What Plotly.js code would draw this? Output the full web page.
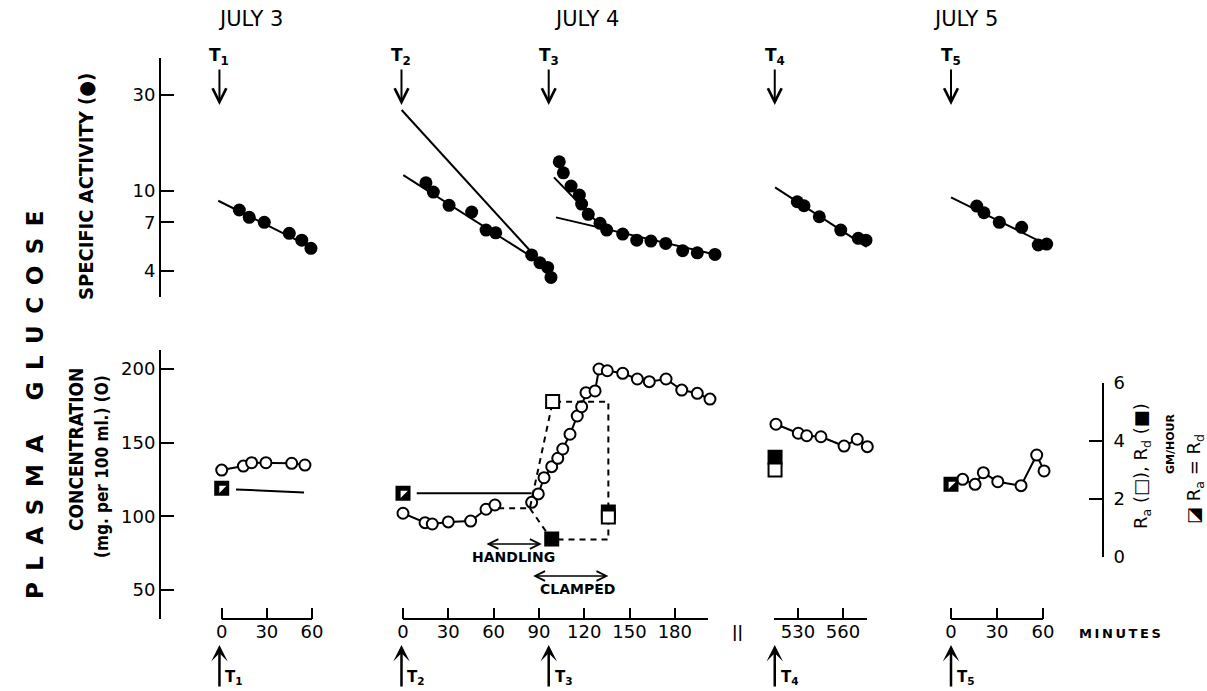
<!DOCTYPE html>
<html><head><meta charset="utf-8">
<script src="https://cdn.plot.ly/plotly-3.0.1.min.js"></script>
<style>html,body{margin:0;padding:0;background:#fff}</style>
</head><body><div id="chart" style="width:1207px;height:691px"></div>
<script>
// ================= DATA =================
const dayLabels = ['JULY 3', 'JULY 4', 'JULY 5'];
const injLabels = ['T<sub>1</sub>', 'T<sub>2</sub>', 'T<sub>3</sub>', 'T<sub>4</sub>', 'T<sub>5</sub>'];
const injTimes = [-1.5, -1, 96.5, 514.5, 0];

// Tick labels
const tickSeg1 = [0, 30, 60];
const tickSeg2 = [0, 30, 60, 90, 120, 150, 180];
const tickSeg3 = [530, 560];
const tickSeg4 = [0, 30, 60];
const tickSA = [4, 7, 10, 30];
const tickConc = [50, 100, 150, 200];
const tickRate = [0, 2, 4, 6];

// Specific activity (filled circles), log axis
const saT1Time = [11.7, 18.3, 28.3, 44.9, 53.2, 59.3];
const saT1Val  = [8.05, 7.40, 6.99, 6.16, 5.70, 5.19];
const saT1FitTime = [-2.3, 60.9];
const saT1FitVal  = [8.95, 5.19];

const saT2Time = [15.2, 20.1, 30.5, 45.5, 55.0, 61.4, 85.2, 90.7, 95.8, 98.0];
const saT2Val  = [11.0, 9.89, 8.49, 7.86, 6.40, 6.20, 4.81, 4.40, 4.17, 3.72];
const saT2FitTime = [0.2, 90.7];
const saT2FitVal  = [12.0, 4.43];
const saT2SteepTime = [-0.9, 84.8];
const saT2SteepVal  = [25.3, 4.99];

const saT3Time = [103.5, 106.2, 111.3, 116.8, 118.3, 122.7, 130.5, 134.9, 145.5, 154.8, 164.2, 174.0, 185.2, 194.9, 206.6];
const saT3Val  = [13.99, 12.33, 10.59, 9.55, 8.62, 7.66, 6.91, 6.40, 6.11, 5.70, 5.64, 5.49, 5.05, 4.93, 4.84];
const saT3EarlyFitTime = [100.0, 130.5];
const saT3EarlyFitVal  = [11.7, 6.77];
const saT3LateFitTime = [101.3, 206.6];
const saT3LateFitVal  = [7.40, 4.84];

const saT4Time = [529.5, 534.0, 544.2, 558.5, 570.2, 575.3];
const saT4Val  = [8.85, 8.45, 7.45, 6.40, 5.82, 5.70];
const saT4FitTime = [514.7, 575.8];
const saT4FitVal  = [10.43, 5.28];

const saT5Time = [16.8, 21.5, 31.5, 46.1, 56.9, 62.4];
const saT5Val  = [8.42, 7.80, 6.99, 6.60, 5.39, 5.45];
const saT5FitTime = [0, 58.7];
const saT5FitVal  = [9.30, 5.59];

// Plasma glucose concentration (open circles), mg per 100 ml
const concT1Time = [0, 14.4, 19.9, 29.4, 46.5, 55.3];
const concT1Val  = [131.4, 134.1, 136.4, 136.4, 136.0, 134.8];
const concT2Time = [0, 14.6, 19.4, 30.0, 44.8, 55.0, 60.9];
const concT2Val  = [102.1, 95.7, 94.8, 96.2, 96.8, 104.8, 107.7];
const concT3Time = [85.2, 89.6, 93.4, 98.5, 102.5, 105.8, 110.6, 115.4, 118.3, 121.2, 127.2, 129.8, 135.3, 145.5, 155.2, 163.1, 174.2, 184.6, 194.9, 203.3];
const concT3Val  = [109.5, 115.2, 126.2, 133.7, 139.4, 145.7, 155.7, 168.1, 174.4, 183.9, 185.1, 200.0, 198.8, 197.1, 193.2, 191.4, 193.2, 185.7, 183.5, 179.6];
const concT4Time = [515.3, 530.2, 535.8, 545.3, 560.7, 569.5, 576.2];
const concT4Val  = [162.5, 156.4, 154.7, 154.0, 147.7, 152.3, 147.3];
const concT5Time = [7.6, 15.7, 21.1, 30.5, 45.7, 55.9, 60.7];
const concT5Val  = [125.1, 121.7, 129.6, 123.5, 120.8, 141.6, 130.8];

// Ra / Rd (gm/hour), right axis
const eqT1Time = [0],   eqT1Val = [2.37];
const eqT1LineTime = [9.5, 54.7], eqT1LineVal = [2.33, 2.22];
const eqT2Time = [0],   eqT2Val = [2.20];
const eqT2LineTime = [9.1, 85.2], eqT2LineVal = [2.20, 2.20];
const raPathTime = [63, 84, 99.1, 136, 136];
const raPathVal  = [1.68, 1.68, 5.35, 5.35, 1.45];
const rdPathTime = [84, 98.5, 136, 136];
const rdPathVal  = [1.68, 0.60, 0.60, 1.45];
const raT3Time = [99.1, 136], raT3Val = [5.36, 1.38];
const rdT3Time = [98.5, 136], rdT3Val = [0.62, 1.55];
const raT4Time = [514.7], raT4Val = [3.00];
const rdT4Time = [514.7], rdT4Val = [3.44];
const eqT5Time = [0],   eqT5Val = [2.51];

// Experimental periods on July 4 (minutes)
const handlingPeriod = [54.3, 91.9];
const clampedPeriod  = [85.2, 136];

// ================= LAYOUT HELPERS =================
const W = 1207, H = 691;
const px = p => p / W;
const py = p => 1 - p / H;
const FONT = 'DejaVu Sans, sans-serif';
const FONTC = 'DejaVu Sans Condensed, DejaVu Sans, sans-serif';
const K = '#000';

function segDomain(zeroPx, zeroVal, pxPerMin, lo, hi) {
  return [px(zeroPx + (lo - zeroVal) * pxPerMin), px(zeroPx + (hi - zeroVal) * pxPerMin)];
}
const seg = [
  {id:'x',  rng:[-3, 62],   dom:segDomain(221.7, 0, 1.505, -3, 62),   ticks:tickSeg1, line:[0, 60]},
  {id:'x2', rng:[-2, 208],  dom:segDomain(403, 0, 1.51, -2, 208),     ticks:tickSeg2, line:[0, 202]},
  {id:'x3', rng:[513, 577], dom:segDomain(798, 530, 1.5, 513, 577),   ticks:tickSeg3, line:[514, 576]},
  {id:'x4', rng:[-2, 63],   dom:segDomain(951, 0, 1.533, -2, 63),     ticks:tickSeg4, line:[0, 60]}
];

const layout = {
  width: W, height: H,
  margin: {l:0, r:0, t:0, b:0},
  paper_bgcolor: '#fff', plot_bgcolor: 'rgba(0,0,0,0)',
  showlegend: false,
  font: {family: FONT, color: K},
  shapes: [], annotations: []
};

seg.forEach((s, i) => {
  const name = i === 0 ? 'xaxis' : 'xaxis' + (i + 1);
  layout[name] = {
    domain: s.dom, range: s.rng, anchor: 'y2',
    showline: false, showgrid: false, zeroline: false,
    ticks: 'inside', ticklen: 11, tickwidth: 2, tickcolor: K,
    tickmode: 'array', tickvals: s.ticks, ticktext: s.ticks.map(String),
    tickfont: {family: FONT, size: 18, color: K}
  };
  layout.shapes.push({type:'line', xref:s.id, yref:'paper', x0:s.line[0], x1:s.line[1],
                      y0:py(619), y1:py(619), line:{color:K, width:2}});
});

layout.yaxis = {
  type: 'log', domain: [py(297), py(58)], range: [0.473, 1.662],
  anchor: 'free', position: px(160), showline: true, linewidth: 2, linecolor: K,
  showgrid: false, zeroline: false, ticks: 'inside', ticklen: 13, tickwidth: 2, tickcolor: K,
  tickmode: 'array', tickvals: tickSA, ticktext: tickSA.map(String),
  tickfont: {family: FONT, size: 18, color: K}
};
layout.yaxis2 = {
  domain: [py(619), py(350)], range: [30.3, 212.9],
  anchor: 'free', position: px(160), showline: true, linewidth: 2, linecolor: K,
  showgrid: false, zeroline: false, ticks: 'inside', ticklen: 13, tickwidth: 2, tickcolor: K,
  tickmode: 'array', tickvals: tickConc, ticktext: tickConc.map(String),
  tickfont: {family: FONT, size: 18, color: K}
};
layout.yaxis3 = {
  domain: [py(557), py(383)], range: [0, 6],
  anchor: 'free', position: px(1103), side: 'right', showline: true, linewidth: 2, linecolor: K,
  showgrid: false, zeroline: false, ticks: 'inside', ticklen: 13, tickwidth: 2, tickcolor: K,
  tickmode: 'array', tickvals: tickRate, ticktext: tickRate.map(String), ticklabelstandoff: 6,
  tickfont: {family: FONT, size: 18, color: K}
};

// ================= TRACES =================
const traces = [];
function line(x, y, xa, ya, extra) {
  traces.push(Object.assign({type:'scatter', mode:'lines', x:x, y:y, xaxis:xa, yaxis:ya,
    line:{color:K, width:2}, hoverinfo:'skip'}, extra || {}));
}
function dots(x, y, xa) {
  traces.push({type:'scatter', mode:'markers', x:x, y:y, xaxis:xa, yaxis:'y', cliponaxis:false,
    marker:{symbol:'circle', size:13, color:K}, hoverinfo:'skip'});
}
function circles(x, y, xa) {
  traces.push({type:'scatter', mode:'lines+markers', x:x, y:y, xaxis:xa, yaxis:'y2', cliponaxis:false,
    line:{color:K, width:2}, marker:{symbol:'circle', size:11, color:'#fff', line:{color:K, width:2}},
    hoverinfo:'skip'});
}
function squares(x, y, xa, filled) {
  traces.push({type:'scatter', mode:'markers', x:x, y:y, xaxis:xa, yaxis:'y3', cliponaxis:false,
    marker:{symbol:'square', size:13, color: filled ? K : '#fff', line:{color:K, width:2}},
    hoverinfo:'skip'});
}
function eqSquare(x, y, xa) {
  squares(x, y, xa, true);
  traces.push({type:'scatter', mode:'markers', x:x, y:y, xaxis:xa, yaxis:'y3', cliponaxis:false,
    marker:{symbol:'triangle-nw', size:8, color:'#fff', line:{width:0}}, hoverinfo:'skip'});
}

// Specific activity
line(saT1FitTime, saT1FitVal, 'x', 'y');            dots(saT1Time, saT1Val, 'x');
line(saT2FitTime, saT2FitVal, 'x2', 'y');
line(saT2SteepTime, saT2SteepVal, 'x2', 'y');        dots(saT2Time, saT2Val, 'x2');
line(saT3EarlyFitTime, saT3EarlyFitVal, 'x2', 'y');
line(saT3LateFitTime, saT3LateFitVal, 'x2', 'y');    dots(saT3Time, saT3Val, 'x2');
line(saT4FitTime, saT4FitVal, 'x3', 'y');            dots(saT4Time, saT4Val, 'x3');
line(saT5FitTime, saT5FitVal, 'x4', 'y');            dots(saT5Time, saT5Val, 'x4');

// Rates
line(eqT1LineTime, eqT1LineVal, 'x', 'y3');
line(eqT2LineTime, eqT2LineVal, 'x2', 'y3');
line(raPathTime, raPathVal, 'x2', 'y3', {line:{color:K, width:2, dash:'6px,5px'}});
line(rdPathTime, rdPathVal, 'x2', 'y3', {line:{color:K, width:2, dash:'6px,5px'}});
eqSquare(eqT1Time, eqT1Val, 'x');
eqSquare(eqT2Time, eqT2Val, 'x2');
squares(rdT3Time, rdT3Val, 'x2', true);
squares(raT3Time, raT3Val, 'x2', false);
squares(rdT4Time, rdT4Val, 'x3', true);
squares(raT4Time, raT4Val, 'x3', false);
eqSquare(eqT5Time, eqT5Val, 'x4');

// Concentration
circles(concT1Time, concT1Val, 'x');
circles(concT2Time, concT2Val, 'x2');
circles(concT3Time, concT3Val, 'x2');
circles(concT4Time, concT4Val, 'x3');
circles(concT5Time, concT5Val, 'x4');

// ================= ANNOTATIONS =================
const A = layout.annotations;
function txt(text, x, y, size, opts) {
  A.push(Object.assign({text:text, xref:'paper', yref:'paper', x:px(x), y:py(y), showarrow:false,
    font:{family:FONT, size:size, color:K}, xanchor:'center', yanchor:'middle'}, opts || {}));
}
txt(dayLabels[0], 250, 19, 21);
txt(dayLabels[1], 586, 19, 21);
txt(dayLabels[2], 965, 19, 21);

const injAxis = ['x', 'x2', 'x2', 'x3', 'x4'];
injTimes.forEach((t, i) => {
  A.push({text:'', xref:injAxis[i], yref:'paper', x:t, y:py(105), ax:0, ay:-37,
    showarrow:true, arrowhead:5, arrowsize:1.35, arrowwidth:2, arrowcolor:K});
  A.push({text:'<b>' + injLabels[i] + '</b>', xref:injAxis[i], yref:'paper', x:t, y:py(57),
    showarrow:false, font:{family:FONT, size:17, color:K}, xanchor:'center', yanchor:'middle'});
  A.push({text:'', xref:injAxis[i], yref:'paper', x:t, y:py(645), ax:0, ay:43,
    showarrow:true, arrowhead:3, arrowsize:1.1, arrowwidth:2.5, arrowcolor:K});
  A.push({text:'<b>' + injLabels[i] + '</b>', xref:injAxis[i], yref:'paper', x:t, y:py(677), xshift:4,
    showarrow:false, font:{family:FONT, size:15, color:K}, xanchor:'left', yanchor:'middle'});
});

A.push({text:'', xref:'x2', yref:'paper', x:handlingPeriod[1], y:py(544), axref:'x2', ax:handlingPeriod[0], ay:0,
  showarrow:true, arrowside:'end+start', arrowhead:5, startarrowhead:5, arrowsize:1.2, startarrowsize:1.2,
  arrowwidth:1.6, arrowcolor:K});
A.push({text:'', xref:'x2', yref:'paper', x:clampedPeriod[1], y:py(576), axref:'x2', ax:clampedPeriod[0], ay:0,
  showarrow:true, arrowside:'end+start', arrowhead:5, startarrowhead:5, arrowsize:1.2, startarrowsize:1.2,
  arrowwidth:1.6, arrowcolor:K});
txt('<b>HANDLING</b>', 513, 557, 14);
txt('<b>CLAMPED</b>', 577, 589, 14);

txt('<b>P\u2002L\u2002A\u2002S\u2002M\u2002A\u2002\u2002\u2002G\u2002L\u2002U\u2002C\u2002O\u2002S\u2002E</b>', 35, 405, 23, {textangle:-90});
txt('<b>SPECIFIC ACTIVITY (\u25CF)</b>', 86, 187, 20, {textangle:-90, font:{family:FONTC, size:20, color:K}});
txt('<b>CONCENTRATION</b>', 76, 450, 19, {textangle:-90, font:{family:FONTC, size:19, color:K}});
txt('<b>(mg. per 100 ml.) (O)</b>', 102, 467, 17, {textangle:-90, font:{family:FONTC, size:17, color:K}});
txt('R<sub>a</sub> (\u25A1), R<sub>d</sub> (\u25A0)', 1142, 466, 18, {textangle:-90});
txt('<b>GM/HOUR</b>', 1170, 444, 11, {textangle:-90});
txt('\u25EA R<sub>a</sub> = R<sub>d</sub>', 1195, 479, 18, {textangle:-90});

txt('<b>||</b>', 737, 632, 15);
txt('<b>M\u2009I\u2009N\u2009U\u2009T\u2009E\u2009S</b>', 1120, 633, 13);

Plotly.newPlot('chart', traces, layout, {displayModeBar:false, staticPlot:true});
</script>
</body></html>
